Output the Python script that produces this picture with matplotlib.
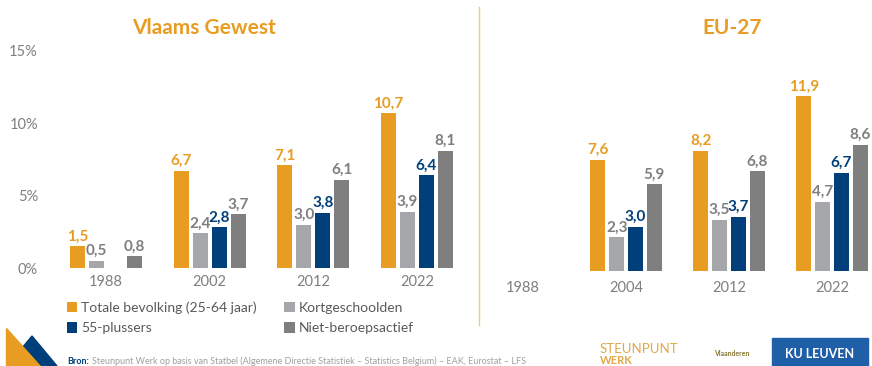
import numpy as np
import matplotlib
matplotlib.use("Agg")
import matplotlib.pyplot as plt
from matplotlib.patches import Polygon, Rectangle

plt.rcParams['font.family'] = ['Lato', 'DejaVu Sans']

# data (% of population)
series = ['Totale bevolking (25-64 jaar)', 'Kortgeschoolden', '55-plussers', 'Niet-beroepsactief']
colors = ['#E89C21', '#A5A7AA', '#003F7A', '#7F7F7F']
label_colors = ['#E89C21', '#7F7F7F', '#003F7A', '#7F7F7F']

years_vl = ['1988', '2002', '2012', '2022']
totale_vl = [1.5, 6.7, 7.1, 10.7]
kort_vl = [0.5, 2.4, 3.0, 3.9]
plus55_vl = [np.nan, 2.8, 3.8, 6.4]
niet_vl = [0.8, 3.7, 6.1, 8.1]

years_eu = ['1988', '2004', '2012', '2022']
totale_eu = [np.nan, 7.6, 8.2, 11.9]
kort_eu = [np.nan, 2.3, 3.5, 4.7]
plus55_eu = [np.nan, 3.0, 3.7, 6.7]
niet_eu = [np.nan, 5.9, 6.8, 8.6]

W, H = 872, 366
fig = plt.figure(figsize=(W / 100, H / 100), dpi=100)

def px(x0, y0, x1, y1):
    # pixel box (from top-left) -> figure fraction rect
    return [x0 / W, 1 - y1 / H, (x1 - x0) / W, (y1 - y0) / H]

ax1 = fig.add_axes(px(49, 51, 478, 268))
ax2 = fig.add_axes(px(482, 51, 872, 271))

def draw(ax, years, data, xlim, pad):
    x = np.arange(len(years))
    pitch, width = 0.183, 0.144
    bars = []
    for i, vals in enumerate(data):
        xs = x + (i - 1.5) * pitch
        b = ax.bar(xs, vals, width, color=colors[i], label=series[i])
        bars.append(b)
        for xi, v in zip(xs, vals):
            if np.isnan(v):
                continue
            ax.annotate(f"{v:.1f}".replace('.', ','), (xi, v), xytext=(0, 2),
                        textcoords='offset points', ha='center', va='bottom',
                        fontsize=11, fontweight='bold', color=label_colors[i])
    ax.set_xlim(*xlim)
    ax.set_ylim(0, 15)
    ax.set_xticks(x)
    ax.set_xticklabels(years)
    ax.tick_params(axis='x', length=0, pad=pad, labelsize=10.5, labelcolor='#7F7F7F')
    for s in ax.spines.values():
        s.set_visible(False)
    return bars

bars = draw(ax1, years_vl, [totale_vl, kort_vl, plus55_vl, niet_vl], (-0.55, 3.59), 5)
draw(ax2, years_eu, [totale_eu, kort_eu, plus55_eu, niet_eu], (-0.40, 3.39), 7)

ax1.set_yticks([0, 5, 10, 15])
ax1.set_yticklabels(['0%', '5%', '10%', '15%'])
ax1.tick_params(axis='y', length=0, pad=8, labelsize=10.5, labelcolor='#7F7F7F')
ax2.set_yticks([])

fig.text(204 / W, 1 - 28 / H, 'Vlaams Gewest', ha='center', va='center',
         fontsize=15, fontweight='bold', color='#E89C21')
fig.text(732 / W, 1 - 28 / H, 'EU-27', ha='center', va='center',
         fontsize=15, fontweight='bold', color='#E89C21')

# separator
fig.add_artist(plt.Line2D([479 / W, 479 / W], [1 - 325 / H, 1 - 7 / H],
                          color='#F5C88A', lw=1))

# legend: row 1 Totale / Kort, row 2 55+ / Niet
order = [0, 2, 1, 3]
fig.legend([bars[i] for i in order], [series[i] for i in order], ncol=2,
           loc='upper left', bbox_to_anchor=(54 / W, 1 - 289 / H), frameon=False,
           fontsize=10, handlelength=0.75, handleheight=0.75, handletextpad=0.3,
           columnspacing=2.0, labelspacing=0.6, labelcolor='#595959')

# source
fig.text(67 / W, 1 - 361 / H, 'Bron:', ha='left', va='center', fontsize=6.5,
         fontweight='bold', color='#003F7A')
fig.text(92 / W, 1 - 361 / H,
         'Steunpunt Werk op basis van Statbel (Algemene Directie Statistiek \u2013 Statistics Belgium) \u2013 EAK, Eurostat \u2013 LFS',
         ha='left', va='center', fontsize=6.5, color='#A0A0A0')

# logos (simple)
def poly(pts, c):
    fig.add_artist(Polygon([(p[0] / W, 1 - p[1] / H) for p in pts], closed=True,
                           color=c, transform=fig.transFigure))

poly([(32, 336), (57, 366), (7, 366)], '#003F7A')
poly([(6, 328), (6, 366), (40, 366)], '#E89C21')

fig.text(600 / W, 1 - 349 / H, 'STEUNPUNT', ha='left', va='center',
         fontsize=9.5, color='#E0A84A')
fig.text(600 / W, 1 - 360 / H, 'WERK', ha='left', va='center',
         fontsize=8, fontweight='bold', color='#E0A84A')
fig.text(732 / W, 1 - 353 / H, 'Vlaanderen', ha='center', va='center',
         fontsize=5, fontweight='bold', color='#8A7A3A')
fig.add_artist(Rectangle((772 / W, 0), 96 / W, 28 / H, color='#1F5FA8',
                         transform=fig.transFigure))
fig.text(820 / W, 1 - 354 / H, 'KU LEUVEN', ha='center', va='center',
         fontsize=9, fontweight='bold', color='white')

fig.savefig('out.png', dpi=100)
